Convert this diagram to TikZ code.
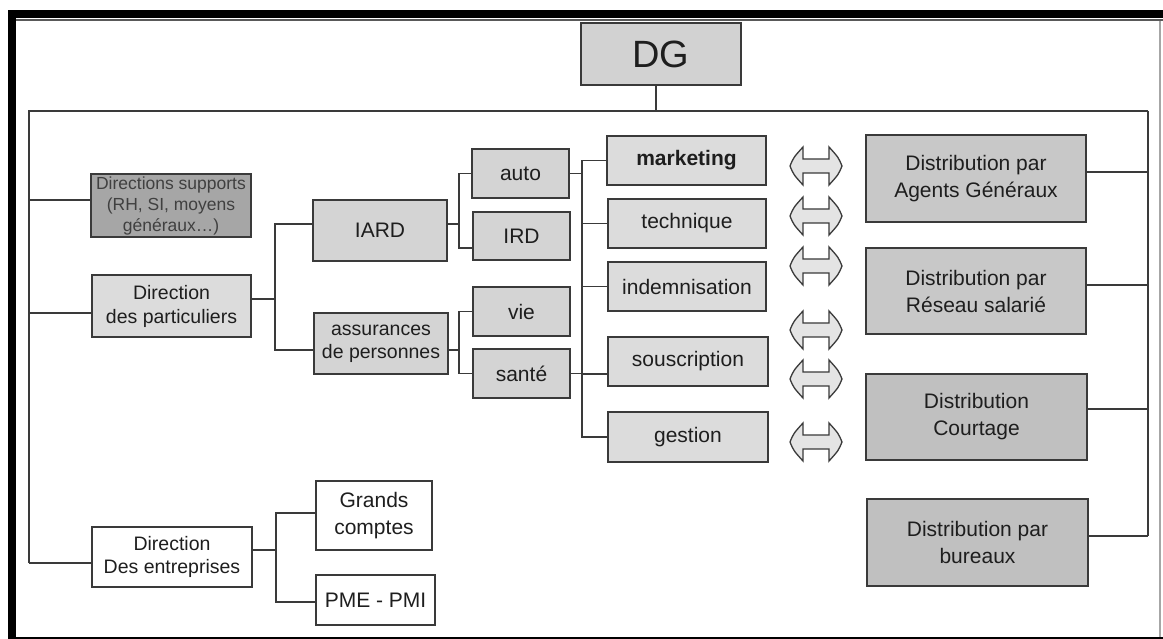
\documentclass[tikz,border=0pt]{standalone}
\usepackage{fontspec}
\setmainfont{Liberation Sans}
\definecolor{boxlt}{HTML}{DCDCDC}
\definecolor{boxmd}{HTML}{D4D4D4}
\definecolor{boxdist}{HTML}{C8C8C8}
\definecolor{boxdistb}{HTML}{C0C0C0}
\definecolor{boxdk}{HTML}{A6A6A6}
\definecolor{boxdg}{HTML}{D2D2D2}
\definecolor{edgec}{HTML}{3A3A3A}
\definecolor{txtc}{HTML}{1E1E1E}
\definecolor{arrfill}{HTML}{E4E4E4}
\tikzset{
  box/.style={rectangle, draw=edgec, line width=1.4pt, inner sep=0pt, align=center, text=txtc,
              font=\fontsize{21}{27}\selectfont},
  conn/.style={draw=edgec, line width=1.3pt},
  arrsty/.style={draw=edgec, line width=1.3pt, fill=arrfill, line join=miter},
}
\begin{document}
\begin{tikzpicture}[x=1pt,y=-1pt]
\useasboundingbox (0,0) rectangle (1163,639);
% frame
\fill[white] (0,0) rectangle (1163,639);
\fill[black] (8,10) rectangle (1163,18);
\fill[black] (8,10) rectangle (16,639);
\fill[black] (16,637) rectangle (1163,639);
\draw[black!65, line width=2pt] (16,20.5) -- (1163,20.5);
\draw[black!35, line width=1.5pt] (1160,21) -- (1160,637);

% nodes
\node[box, fill=boxdg, minimum width=160, minimum height=62, font=\fontsize{38}{40}\selectfont] (DG) at (661,54) {DG};

\node[box, fill=boxdk, minimum width=160, minimum height=63, text=black!75, font=\fontsize{17.5}{21}\selectfont] (DS) at (171,205.5) {Directions supports\\(RH, SI, moyens\\généraux…)};
\node[box, fill=boxlt, minimum width=159, minimum height=62, font=\fontsize{19.5}{24}\selectfont] (DP) at (171.5,306) {Direction\\des particuliers};
\node[box, fill=white, minimum width=160, minimum height=60, font=\fontsize{19.5}{23}\selectfont] (DE) at (172,557) {Direction\\Des entreprises};

\node[box, fill=boxmd, minimum width=134, minimum height=61] (IARD) at (380,230.5) {IARD};
\node[box, fill=boxmd, minimum width=134, minimum height=61, font=\fontsize{19.5}{23}\selectfont] (ASS) at (381,343.5) {assurances\\de personnes};

\node[box, fill=boxmd, minimum width=97, minimum height=49] (AUTO) at (520.5,173.5) {auto};
\node[box, fill=boxmd, minimum width=97, minimum height=48] (IRD) at (521.5,236) {IRD};
\node[box, fill=boxmd, minimum width=97, minimum height=49] (VIE) at (521.5,311.5) {vie};
\node[box, fill=boxmd, minimum width=97, minimum height=49] (SANTE) at (521.5,373.5) {santé};

\node[box, fill=boxlt, minimum width=159, minimum height=49, font=\bfseries\fontsize{21}{27}\selectfont] (MKT) at (686.5,160.5) {marketing};
\node[box, fill=boxlt, minimum width=158, minimum height=49] (TECH) at (687,223.5) {technique};
\node[box, fill=boxlt, minimum width=158, minimum height=49] (INDEM) at (687,286.5) {indemnisation};
\node[box, fill=boxlt, minimum width=160, minimum height=49] (SOUS) at (688,361.5) {souscription};
\node[box, fill=boxlt, minimum width=160, minimum height=50] (GEST) at (688,437) {gestion};

\node[box, fill=boxdist, minimum width=220, minimum height=87] (DAG) at (976,178.5) {Distribution par\\Agents Généraux};
\node[box, fill=boxdist, minimum width=220, minimum height=86] (DRS) at (976,291) {Distribution par\\Réseau salarié};
\node[box, fill=boxdistb, minimum width=221, minimum height=86] (DCO) at (976.5,417) {Distribution\\Courtage};
\node[box, fill=boxdistb, minimum width=221, minimum height=87] (DBU) at (977.5,542.5) {Distribution par\\bureaux};

\node[box, fill=white, minimum width=116, minimum height=69] (GC) at (374,515.5) {Grands\\comptes};
\node[box, fill=white, minimum width=119, minimum height=50] (PME) at (375.5,600) {PME - PMI};

% bus and main verticals
\coordinate (busL) at (29,111);
\coordinate (busR) at (1148,111);
\coordinate (dgS) at (656,85);
\draw[conn] (dgS) -- (dgS |- busL);
\coordinate (dsW) at ([yshift=5.5pt]DS.west);
\coordinate (dpW) at ([yshift=-7pt]DP.west);
\coordinate (deW) at ([yshift=-6pt]DE.west);
\draw[conn] (deW -| busL) -- (busL) -- (busR);
\draw[conn] (dsW) -- (dsW -| busL);
\draw[conn] (dpW) -- (dpW -| busL);
\draw[conn] (deW) -- (deW -| busL);

% right distribution column
\coordinate (dagE) at ([yshift=6.5pt]DAG.east);
\coordinate (drsE) at ([yshift=6pt]DRS.east);
\coordinate (dcoE) at ([yshift=8pt]DCO.east);
\coordinate (dbuE) at ([yshift=6.5pt]DBU.east);
\draw[conn] (busR) -- (dbuE -| busR);
\draw[conn] (dagE) -- (dagE -| busR);
\draw[conn] (drsE) -- (drsE -| busR);
\draw[conn] (dcoE) -- (dcoE -| busR);
\draw[conn] (dbuE) -- (dbuE -| busR);

% Direction des particuliers -> IARD / assurances
\coordinate (vA) at (275,299);
\coordinate (dpE) at ([yshift=7pt]DP.east);
\coordinate (iardW) at ([yshift=6.5pt]IARD.west);
\coordinate (assW) at ([yshift=-6.5pt]ASS.west);
\draw[conn] (dpE) -- (dpE -| vA);
\draw[conn] (iardW) -- (iardW -| vA) -- (assW -| vA) -- (assW);

% IARD -> auto / IRD
\coordinate (vB) at (459,224);
\coordinate (iardE) at ([yshift=6.5pt]IARD.east);
\coordinate (irdW) at ([yshift=-12pt]IRD.west);
\draw[conn] (iardE) -- (iardE -| vB);
\draw[conn] (AUTO.west) -- (AUTO.west -| vB) -- (irdW -| vB) -- (irdW);

% assurances -> vie / sante
\coordinate (assE) at ([yshift=-6.5pt]ASS.east);
\draw[conn] (assE) -- (assE -| vB);
\draw[conn] (VIE.west) -- (VIE.west -| vB) -- (SANTE.west -| vB) -- (SANTE.west);

% functions column
\coordinate (vC) at (582,161);
\coordinate (sousW) at ([yshift=-12.5pt]SOUS.west);
\draw[conn] (MKT.west) -- (MKT.west -| vC) -- (GEST.west -| vC) -- (GEST.west);
\draw[conn] (AUTO.east) -- (AUTO.east -| vC);
\draw[conn] (SANTE.east) -- (SANTE.east -| vC);
\draw[conn] (TECH.west) -- (TECH.west -| vC);
\draw[conn] (INDEM.west) -- (INDEM.west -| vC);
\draw[conn] (sousW) -- (sousW -| vC);

% Direction des entreprises -> Grands comptes / PME
\coordinate (vD) at (276,550);
\coordinate (deE) at ([yshift=7pt]DE.east);
\coordinate (gcW) at ([yshift=2.5pt]GC.west);
\coordinate (pmeW) at ([yshift=-2pt]PME.west);
\draw[conn] (deE) -- (deE -| vD);
\draw[conn] (gcW) -- (gcW -| vD) -- (pmeW -| vD) -- (pmeW);

% double block arrows
\foreach \yy in {166,216,266,330,379,442} {
  \draw[arrsty, shift={(816,\yy)}]
    (-26,0) .. controls (-22.5,-8.5) .. (-13,-19) -- (-13,-7) -- (13,-7) -- (13,-19)
    .. controls (22.5,-8.5) .. (26,0) .. controls (22.5,8.5) .. (13,19) -- (13,7) -- (-13,7)
    -- (-13,19) .. controls (-22.5,8.5) .. (-26,0) -- cycle;
}
\end{tikzpicture}
\end{document}
